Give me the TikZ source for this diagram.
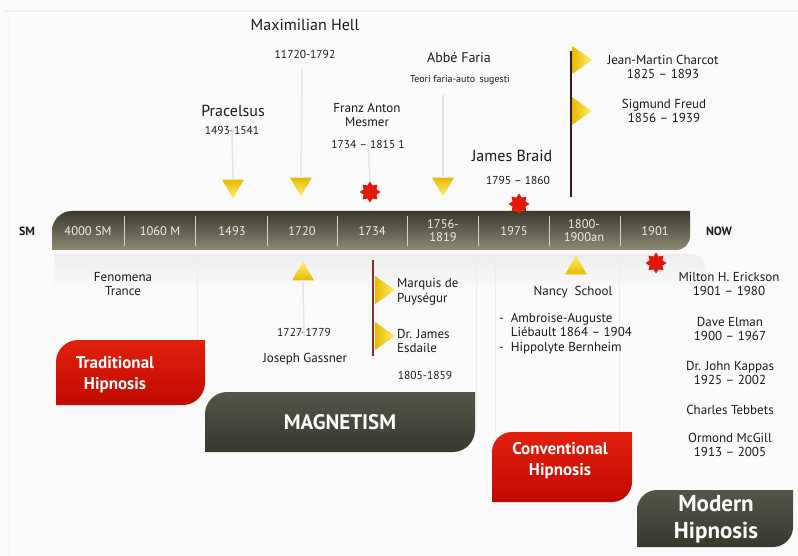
\documentclass[tikz,border=0pt]{standalone}
\usepackage{fontspec}
\setmainfont{PT Sans}
\usetikzlibrary{shapes.geometric}
\definecolor{bgc}{HTML}{FAFAFA}
\definecolor{txt}{HTML}{1A1A1A}
\definecolor{barTop}{HTML}{3A3A2E}
\definecolor{barBot}{HTML}{8C8A72}
\definecolor{barTxt}{HTML}{EFEEDF}
\definecolor{sepc}{HTML}{D6D4C0}
\definecolor{yel1}{HTML}{FFF06A}
\definecolor{yel2}{HTML}{E8B800}
\definecolor{redA}{HTML}{E2200E}
\definecolor{redB}{HTML}{C00A00}
\definecolor{darkA}{HTML}{55554A}
\definecolor{darkB}{HTML}{38382F}
\definecolor{starc}{HTML}{E01A0A}
\definecolor{flagline}{HTML}{3A1818}
\definecolor{flagline2}{HTML}{8A2A2A}
\definecolor{faint}{HTML}{E4E4E4}
\begin{document}
\begin{tikzpicture}[x=1pt,y=-1pt,
  tx/.style={text=txt, inner sep=0, align=center},
  bigt/.style={tx, font=\fontsize{16}{18}\selectfont},
  midt/.style={tx, font=\fontsize{13}{14.5}\selectfont},
  smlt/.style={tx, font=\fontsize{11.5}{13}\selectfont},
  tinyt/.style={tx, font=\fontsize{10}{12}\selectfont},
  barlbl/.style={text=barTxt, inner sep=0, align=center, font=\fontsize{12.5}{13}\selectfont},
  endlbl/.style={text=txt, inner sep=0, font=\bfseries\fontsize{12}{13}\selectfont},
  boxlbl/.style={text=white, inner sep=0, align=center, font=\bfseries\fontsize{17}{21}\selectfont},
  tridown/.style={regular polygon, regular polygon sides=3, shape border rotate=180, minimum size=25pt, inner sep=0, top color=yel2, bottom color=yel1, draw=none},
  triup/.style={regular polygon, regular polygon sides=3, minimum size=25pt, inner sep=0, top color=yel1, bottom color=yel2, draw=none},
  burst/.style={star, star points=8, star point ratio=1.5, minimum size=21pt, inner sep=0, fill=starc, draw=none},
  flagtri/.style={left color=yel2, right color=yel1, draw=none},
  guide/.style={draw=faint, line width=1.5pt},
  sepline/.style={draw=sepc, line width=1pt},
  panel/.style={draw=gray!14, line width=1pt}
]
\useasboundingbox (0,0) rectangle (798,556);
\fill[bgc] (0,0) rectangle (798,556);
\draw[gray!12, line width=2pt] (4,11) -- (798,11);
\draw[gray!8, line width=1pt] (8,12) -- (8,556);

% reflection under the bar
\shade[top color=gray!14, bottom color=bgc] (54,254) -- (690,254) .. controls (700,254) and (706,260) .. (706,270) -- (706,290) -- (54,290) -- cycle;
% panel lines
\draw[panel] (197,256) -- (197,392);
\draw[panel] (476,256) -- (476,432);
\draw[panel] (495,256) -- (495,432);
\draw[panel] (619,256) -- (619,490);

% timeline bar
\shade[top color=barTop, bottom color=barBot] (52,250) -- (52,231) .. controls (52,220) and (61,211) .. (72,211) -- (690,211) -- (690,236) .. controls (690,244) and (684,250) .. (676,250) -- cycle;
\foreach \sx in {124,195,267,337,407,478,549,620} \draw[sepline] (\sx,216) -- (\sx,246);
\node[barlbl] (b1) at (88,231) {4000 SM};
\node[barlbl] (b2) at (160,231) {1060 M};
\node[barlbl] (b3) at (232,231) {1493};
\node[barlbl] (b4) at (302,231) {1720};
\node[barlbl] (b5) at (372,231) {1734};
\node[barlbl] (b6) at (443,231) {1756-\\1819};
\node[barlbl] (b7) at (514,231) {1975};
\node[barlbl] (b8) at (584,231) {1800-\\1900an};
\node[barlbl] (b9) at (655,231) {1901};
\node[endlbl] (sm) at (27,231) {SM};
\node[endlbl] (now) at (719,231) {NOW};

% ---------- top events ----------
\node[bigt] (hell) at (305,25) {Maximilian Hell};
\node[smlt] (hellY) at (305,54) {11720-1792};
\node[tridown] (hellT) at (301,184) {};
\draw[guide] (hellY.south) ++(-3,10) coordinate (hellG);
\draw[guide] (hellG) -- (hellT.north);

\node[bigt] (prac) at (233,111) {Pracelsus};
\node[smlt] (pracY) at (232,130) {1493-1541};
\node[tridown] (pracT) at (233,186) {};
\draw[guide] ([yshift=6pt]pracY.south) -- (pracT.north);

\node[midt] (mesmer) at (367,115) {Franz Anton\\Mesmer};
\node[smlt] (mesmerY) at (368,144) {1734 -- 1815 1};
\node[burst] (mesmerS) at (370,192) {};
\draw[guide] ([yshift=6pt]mesmerY.south) -- (mesmerS.north);

\node[tx, font=\fontsize{14}{16}\selectfont] (faria) at (459,58) {Abbé Faria};
\node[tinyt] (fariaY) at (460,80) {Teori faria-auto\, sugesti};
\node[tridown] (fariaT) at (443,184) {};
\coordinate (fariaG) at (443,95);
\draw[guide] (fariaG) -- (fariaT.north);

\node[bigt] (braid) at (512,156) {James Braid};
\node[smlt] (braidY) at (518,180) {1795 -- 1860};
\node[burst] (braidS) at (519,204) {};

\coordinate (cTop) at (571,51);
\coordinate (cBot) at (571,197);
\draw[flagline, line width=1.6pt] (cTop) -- (cBot);
\path[flagtri] (572,46) -- (592,60) -- (572,74) -- cycle;
\path[flagtri] (572,97) -- (592,111) -- (572,125) -- cycle;
\node[midt] (charcot) at (663,67) {Jean-Martin Charcot\\1825 -- 1893};
\node[midt] (freud) at (664,111) {Sigmund Freud\\1856 -- 1939};

% ---------- bottom events ----------
\node[midt] (trance) at (123,284) {Fenomena\\Trance};

\node[triup] (gassT) at (303,274) {};
\node[smlt] (gassY) at (304,332) {1727-1779};
\node[midt] (gass) at (305,359) {Joseph Gassner};
\draw[guide] (gassT.south) -- ([yshift=-8pt]gassY.north);

\coordinate (mTop) at (373,260);
\coordinate (mBot) at (373,356);
\draw[flagline2, line width=1.6pt] (mTop) -- (mBot);
\path[flagtri] (375,276) -- (395,290) -- (375,304) -- cycle;
\path[flagtri] (375,322) -- (395,336) -- (375,350) -- cycle;
\node[midt, anchor=west, align=left] (puys) at (397,292) {Marquis de\\Puységur};
\node[midt, anchor=west, align=left] (esd) at (397,341) {Dr. James\\Esdaile};
\node[smlt] (esdY) at (425,375) {1805-1859};

\node[triup] (nancyT) at (576,268) {};
\node[midt] (nancy) at (573,292) {Nancy\ \ School};
\node[midt, anchor=north west, align=left] (nlist) at (499,313) {-\ \ Ambroise-Auguste\\\hphantom{-\ \ }Liébault 1864 -- 1904\\-\ \ Hippolyte Bernheim};

\node[burst] (erickS) at (656,263) {};
\node[midt] (erick) at (729,284) {Milton H. Erickson\\1901 -- 1980};
\node[midt] (elman) at (730,329) {Dave Elman\\1900 -- 1967};
\node[midt] (kappas) at (730,373) {Dr. John Kappas\\1925 -- 2002};
\node[midt] (tebb) at (730,410) {Charles Tebbets};
\node[midt] (mcgill) at (730,445) {Ormond McGill\\1913 -- 2005};

% ---------- era boxes ----------
\shade[top color=redA, bottom color=redB] (56,405) -- (56,362) .. controls (56,350) and (66,340) .. (78,340) -- (205,340) -- (205,383) .. controls (205,395) and (195,405) .. (183,405) -- cycle;
\node[boxlbl] (trad) at (115,375) {Traditional\\Hipnosis};

\shade[top color=darkA, bottom color=darkB] (205,452) -- (205,414) .. controls (205,402) and (215,392) .. (227,392) -- (475,392) -- (475,430) .. controls (475,442) and (465,452) .. (453,452) -- cycle;
\node[boxlbl, font=\bfseries\fontsize{21}{24}\selectfont] (magn) at (340,422) {MAGNETISM};

\shade[top color=redA, bottom color=redB] (492,502) -- (492,452) .. controls (492,441) and (501,432) .. (512,432) -- (632,432) -- (632,482) .. controls (632,493) and (623,502) .. (612,502) -- cycle;
\node[boxlbl] (conv) at (560,461) {Conventional\\Hipnosis};

\shade[top color=darkA, bottom color=darkB] (637,547) -- (637,510) .. controls (637,499) and (646,490) .. (657,490) -- (793,490) -- (793,527) .. controls (793,538) and (784,547) .. (773,547) -- cycle;
\node[boxlbl, font=\bfseries\fontsize{23}{27}\selectfont] (modern) at (716,519) {Modern\\Hipnosis};
\end{tikzpicture}
\end{document}
